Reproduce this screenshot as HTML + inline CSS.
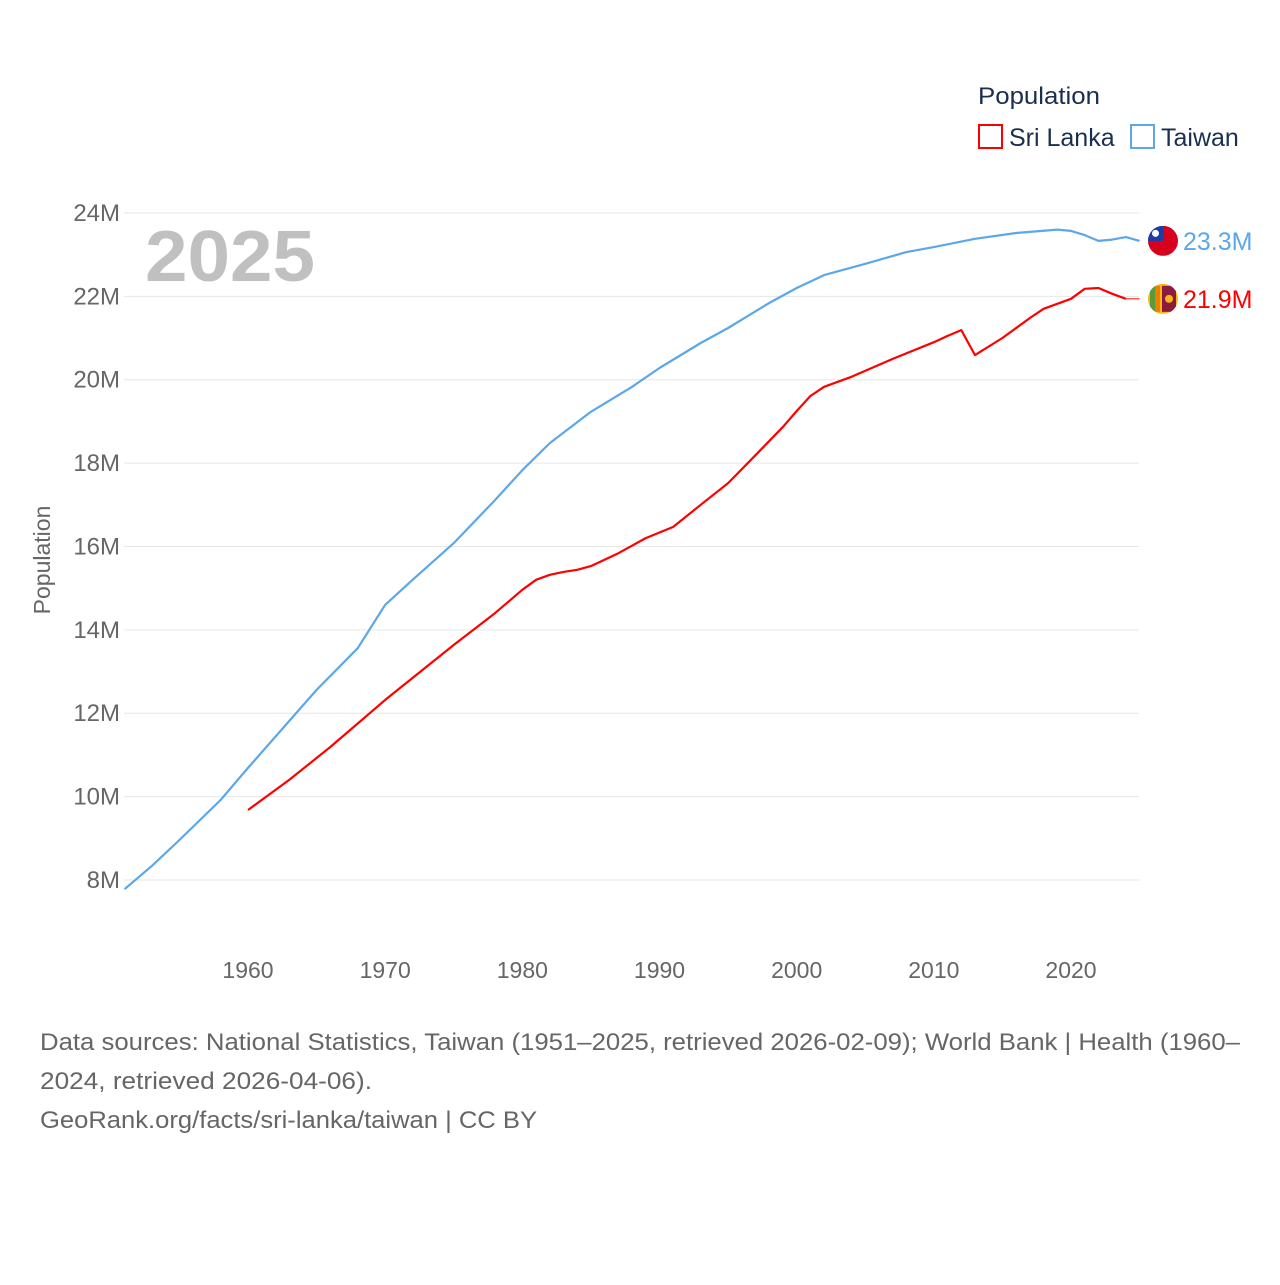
<!DOCTYPE html>
<html><head><meta charset="utf-8"><style>
body{margin:0;background:#fff;}
svg text{font-family:"Liberation Sans",sans-serif;}
</style></head><body>
<svg id="chart" width="1280" height="1280" xmlns="http://www.w3.org/2000/svg">
<rect width="1280" height="1280" fill="#fff"/>
<g id="grid"></g>
<text x="145" y="281" font-size="72" font-weight="bold" fill="#c0c0c0" textLength="170" lengthAdjust="spacingAndGlyphs">2025</text>
<text transform="translate(50,560) rotate(-90)" text-anchor="middle" font-size="23" fill="#666">Population</text>
<g id="series"></g>
<g>
<text x="978" y="104" font-size="24" fill="#1a2e4f" textLength="122" lengthAdjust="spacingAndGlyphs">Population</text>
<rect x="979" y="125" width="23" height="23" fill="none" stroke="#ff0000" stroke-width="2"/>
<text x="1009" y="146" font-size="25" fill="#1a2e4f">Sri Lanka</text>
<rect x="1131" y="125" width="23" height="23" fill="none" stroke="#5ca7ea" stroke-width="2"/>
<text x="1161" y="146" font-size="25" fill="#1a2e4f">Taiwan</text>
</g>
<g font-size="24" fill="#666">
<text x="40" y="1050" textLength="1200" lengthAdjust="spacingAndGlyphs">Data sources: National Statistics, Taiwan (1951–2025, retrieved 2026-02-09); World Bank | Health (1960–</text>
<text x="40" y="1089" textLength="332" lengthAdjust="spacingAndGlyphs">2024, retrieved 2026-04-06).</text>
<text x="40" y="1128" textLength="497" lengthAdjust="spacingAndGlyphs">GeoRank.org/facts/sri-lanka/taiwan | CC BY</text>
</g>
</svg>
<script>
const yTicks=[8,10,12,14,16,18,20,22,24];
const xTicks=[1960,1970,1980,1990,2000,2010,2020];
const twYears=[1951,1953,1955,1958,1960,1965,1968,1970,1972,1975,1978,1980,1982,1985,1988,1990,1993,1995,1998,2000,2002,2005,2008,2010,2013,2016,2019,2020,2021,2022,2023,2024,2025];
const twVals=[7.78,8.34,8.96,9.92,10.69,12.56,13.56,14.60,15.2,16.08,17.11,17.83,18.48,19.23,19.83,20.28,20.88,21.24,21.84,22.2,22.51,22.78,23.06,23.18,23.38,23.52,23.6,23.57,23.47,23.33,23.36,23.42,23.33];
const slYears=[1960,1963,1966,1970,1975,1978,1980,1981,1982,1983,1984,1985,1987,1989,1991,1993,1995,1997,1999,2000,2001,2002,2004,2007,2010,2011,2012,2013,2015,2017,2018,2020,2021,2022,2023,2024];
const slVals=[9.68,10.40,11.19,12.32,13.64,14.40,14.96,15.2,15.32,15.39,15.44,15.53,15.84,16.2,16.47,17.0,17.52,18.19,18.87,19.25,19.61,19.83,20.07,20.5,20.9,21.05,21.19,20.59,21.0,21.48,21.70,21.94,22.18,22.2,22.06,21.94];
const xs=y=>248+(y-1960)*13.717;
const ys=v=>880-(v-8)*41.69;
const NS='http://www.w3.org/2000/svg';
function mk(tag,attrs,parent){const e=document.createElementNS(NS,tag);for(const k in attrs)e.setAttribute(k,attrs[k]);parent.appendChild(e);return e;}
const grid=document.getElementById('grid');
yTicks.forEach(v=>{
 const l=mk('line',{x1:124,x2:1139,y1:ys(v),y2:ys(v),stroke:'#e6e6e6','stroke-width':1},grid);
 
 
 const t=mk('text',{x:120,y:ys(v)+8,'text-anchor':'end','font-size':24,fill:'#666'},grid);
 t.textContent=v+'M';
 
 
});
xTicks.forEach(y=>{
 const t=mk('text',{x:xs(y),y:978,'text-anchor':'middle','font-size':23,fill:'#666'},grid);
 t.textContent=y;
 
 
});
const g=document.getElementById('series');
function line(years,vals,color,name){
 const d=years.map((y,i)=>(i?'L':'M')+xs(y).toFixed(1)+','+ys(vals[i]).toFixed(1)).join('');
 const p=mk('path',{d:d,fill:'none',stroke:color,'stroke-width':2.2,'stroke-linejoin':'round'},g);
 
 
}
line(twYears,twVals,'#5ca7ea','taiwan-line');
line(slYears,slVals,'#ff0000','sri-lanka-line');
const lastSl=slVals[slVals.length-1], lastTw=twVals[twVals.length-1];
const c=mk('line',{x1:xs(2024),x2:xs(2025),y1:ys(lastSl),y2:ys(lastSl),stroke:'#ff0000','stroke-width':1},g);


const fx=1163;
const tw=mk('g',{},g);


const twy=ys(lastTw);
mk('clipPath',{id:'c1'},tw);
mk('circle',{cx:fx,cy:twy,r:15},tw.lastChild);
const tg=mk('g',{'clip-path':'url(#c1)'},tw);
mk('rect',{x:fx-15,y:twy-15,width:30,height:30,fill:'#d7001d'},tg);
mk('rect',{x:fx-15,y:twy-15,width:15,height:15,fill:'#1a3ea8'},tg);
mk('circle',{cx:fx-7.5,cy:twy-7.5,r:3.5,fill:'#fff'},tg);
const sl=mk('g',{},g);


const sly=ys(lastSl);
mk('clipPath',{id:'c2'},sl);
mk('circle',{cx:fx,cy:sly,r:15},sl.lastChild);
const sg=mk('g',{'clip-path':'url(#c2)'},sl);
mk('rect',{x:fx-15,y:sly-15,width:30,height:30,fill:'#f7b718'},sg);
mk('rect',{x:fx-13,y:sly-13,width:5,height:26,fill:'#5a9a3a'},sg);
mk('rect',{x:fx-8,y:sly-13,width:5,height:26,fill:'#ef7d00'},sg);
mk('rect',{x:fx-1,y:sly-13,width:14,height:26,fill:'#8d1b3d'},sg);
mk('circle',{cx:fx+6,cy:sly,r:4,fill:'#f7b718'},sg);
const t1=mk('text',{x:1183,y:twy+9,'font-size':25,fill:'#5ca7ea'},g);
t1.textContent=lastTw.toFixed(1)+'M';


const t2=mk('text',{x:1183,y:sly+9,'font-size':25,fill:'#ff0000'},g);
t2.textContent=lastSl.toFixed(1)+'M';


</script>
</body></html>
